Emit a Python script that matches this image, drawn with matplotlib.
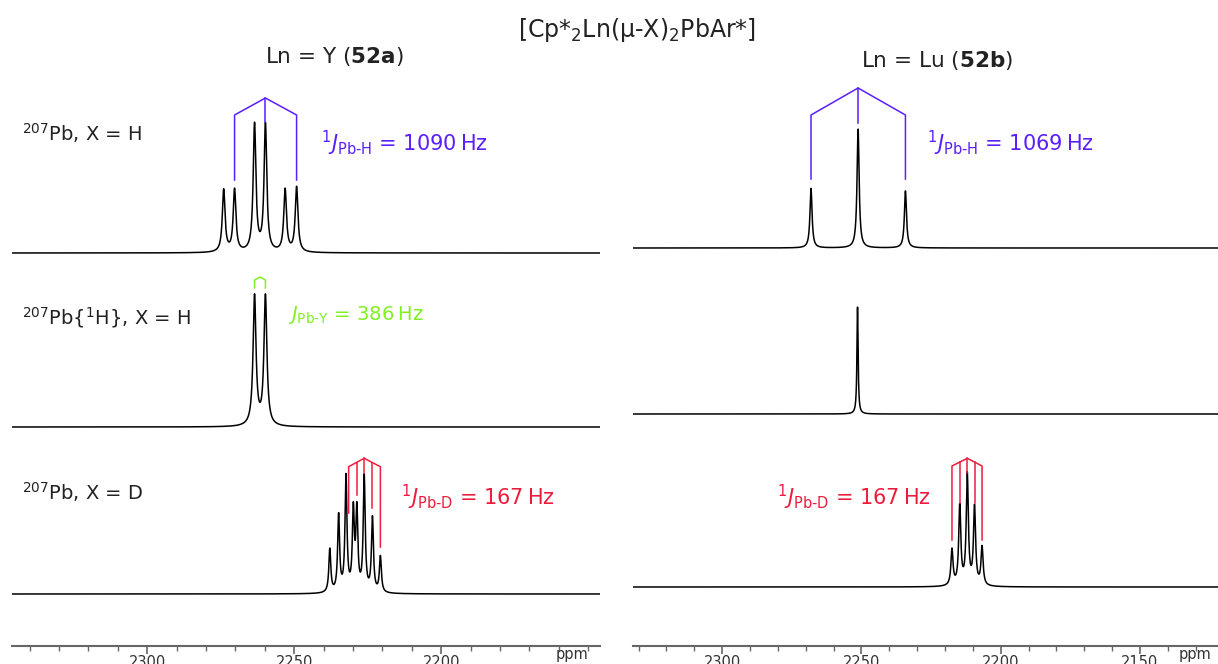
import numpy as np
import matplotlib
matplotlib.use('Agg')
import matplotlib.pyplot as plt

plt.rcParams['font.family'] = ['DejaVu Sans']
plt.rcParams['mathtext.fontset'] = 'dejavusans'

W, H = 1218, 664

# peak lists: position (ppm), relative height, half width (ppm)
# Ln = Y (52a)
y_h_ppm = [2274.0, 2270.3, 2263.5, 2259.8, 2253.1, 2249.2]
y_h_int = [0.48, 0.48, 0.98, 0.98, 0.48, 0.50]
y_h_hw = 0.55
y_dec_ppm = [2263.5, 2259.8]
y_dec_int = [0.97, 0.97]
y_dec_hw = 0.6
y_d_ppm = [2237.9, 2234.9, 2232.4, 2229.9, 2228.7, 2226.2, 2223.4, 2220.7]
y_d_int = [0.34, 0.60, 0.90, 0.62, 0.62, 0.90, 0.58, 0.28]
y_d_hw = 0.4

# Ln = Lu (52b)
lu_h_ppm = [2268.1, 2251.2, 2234.2]
lu_h_int = [0.50, 1.0, 0.48]
lu_h_hw = 0.45
lu_dec_ppm = [2251.4]
lu_dec_int = [1.0]
lu_dec_hw = 0.25
lu_d_ppm = [2217.5, 2214.7, 2212.0, 2209.4, 2206.7]
lu_d_int = [0.30, 0.66, 0.92, 0.65, 0.32]
lu_d_hw = 0.45

# line positions of the Pb-D quintet markers (ppm)
y_d_marks = [2231.5, 2228.8, 2226.2, 2223.6, 2220.7]
lu_d_marks = [2217.5, 2214.7, 2212.0, 2209.4, 2206.7]


def spectrum(x, ppm, amp, hw):
    y = np.zeros_like(x)
    for p, a in zip(ppm, amp):
        y += a / (1 + ((x - p) / hw) ** 2)
    return y


def px(x, y):
    return x / W, 1 - y / H


def yy(p):
    # pixel row -> height above the ppm axis line
    return 646 - p


fig = plt.figure(figsize=(W / 100, H / 100), dpi=100)

axL = fig.add_axes([12 / W, 18 / H, 588 / W, 576 / H])
axR = fig.add_axes([633 / W, 18 / H, 585 / W, 576 / H])

xl = np.linspace(2346, 2146, 4000)
xr = np.linspace(2332, 2122, 4000)

axL.plot(xl, 393 + 130 * spectrum(xl, y_h_ppm, y_h_int, y_h_hw), color='k', lw=1.1)
axL.plot(xl, 219 + 134 * spectrum(xl, y_dec_ppm, y_dec_int, y_dec_hw), color='k', lw=1.1)
axL.plot(xl, 52 + 128 * spectrum(xl, y_d_ppm, y_d_int, y_d_hw), color='k', lw=1.1)

axR.plot(xr, 398 + 119 * spectrum(xr, lu_h_ppm, lu_h_int, lu_h_hw), color='k', lw=1.1)
axR.plot(xr, 232 + 107 * spectrum(xr, lu_dec_ppm, lu_dec_int, lu_dec_hw), color='k', lw=1.1)
axR.plot(xr, 59 + 120 * spectrum(xr, lu_d_ppm, lu_d_int, lu_d_hw), color='k', lw=1.1)

blue = '#5a1eff'
green = '#80f020'
red = '#ee1c3c'

# 52a, X = H
axL.plot([2270.3, 2270.3, 2259.8, 2249.2, 2249.2],
         [yy(180), yy(115), yy(98), yy(115), yy(180)], color=blue, lw=1.1)
axL.plot([2259.8, 2259.8], [yy(98), yy(122)], color=blue, lw=1.1)
# 52a decoupled
axL.plot([2263.5, 2263.5, 2261.65, 2259.8, 2259.8],
         [yy(288), yy(280), yy(277), yy(280), yy(288)], color=green, lw=1.1)
# 52a, X = D
dl = y_d_marks
axL.plot([dl[0], dl[0], dl[2], dl[4], dl[4]],
         [yy(513), yy(466.7), yy(458.3), yy(466.7), yy(547)], color=red, lw=1.1)
axL.plot([dl[1], dl[1]], [yy(462.5), yy(495)], color=red, lw=1.1)
axL.plot([dl[2], dl[2]], [yy(458.3), yy(473)], color=red, lw=1.1)
axL.plot([dl[3], dl[3]], [yy(462.5), yy(508)], color=red, lw=1.1)

# 52b, X = H
axR.plot([2268.1, 2268.1, 2251.2, 2234.2, 2234.2],
         [yy(179), yy(115), yy(88), yy(115), yy(179)], color=blue, lw=1.1)
axR.plot([2251.2, 2251.2], [yy(88), yy(123)], color=blue, lw=1.1)
# 52b, X = D
dr = lu_d_marks
axR.plot([dr[0], dr[0], dr[2], dr[4], dr[4]],
         [yy(540), yy(466), yy(458.3), yy(466), yy(540)], color=red, lw=1.1)
axR.plot([dr[1], dr[1]], [yy(462), yy(503)], color=red, lw=1.1)
axR.plot([dr[2], dr[2]], [yy(458.3), yy(473)], color=red, lw=1.1)
axR.plot([dr[3], dr[3]], [yy(462), yy(503)], color=red, lw=1.1)

for ax, ticks, lim in ((axL, [2300, 2250, 2200], (2346, 2146)),
                       (axR, [2300, 2250, 2200, 2150], (2332, 2122))):
    for s in ('top', 'left', 'right'):
        ax.spines[s].set_visible(False)
    ax.spines['bottom'].set_color('#666666')
    ax.spines['bottom'].set_linewidth(1.5)
    ax.set_yticks([])
    ax.set_xticks(ticks)
    ax.set_xticks(np.arange(2120, 2350, 10), minor=True)
    ax.set_xlim(*lim)
    ax.set_ylim(0, 576)
    ax.tick_params(axis='x', which='major', length=6, width=1.2, color='#666666',
                   labelsize=10.5, labelcolor='#333333', pad=0.5)
    ax.tick_params(axis='x', which='minor', length=3.5, width=1.0, color='#666666')
    ax.patch.set_visible(False)

fig.text(*px(572, 655), 'ppm', fontsize=10.5, color='#333333', ha='center', va='center')
fig.text(*px(1195, 655), 'ppm', fontsize=10.5, color='#333333', ha='center', va='center')

# titles
fig.text(*px(637, 30), r'[Cp*$_{2}$Ln(μ-X)$_{2}$PbAr*]', fontsize=17, color='#222222',
         ha='center', va='center')
fig.text(*px(334, 57), r'Ln = Y ($\mathbf{52a}$)', fontsize=15.5, color='#222222',
         ha='center', va='center')
fig.text(*px(937, 60), r'Ln = Lu ($\mathbf{52b}$)', fontsize=15.5, color='#222222',
         ha='center', va='center')

# row labels
fig.text(*px(22, 133), r'$^{207}$Pb, X = H', fontsize=14, color='#222222', va='center')
fig.text(*px(22, 318), r'$^{207}$Pb{$^{1}$H}, X = H', fontsize=14, color='#222222',
         va='center')
fig.text(*px(22, 492), r'$^{207}$Pb, X = D', fontsize=14, color='#222222', va='center')

# coupling constants
fig.text(*px(321, 143), '$^{1}J_{\\text{Pb-H}}$ = 1090\u2009Hz', fontsize=15, color=blue,
         va='center')
fig.text(*px(288, 315), '$J_{\\text{Pb-Y}}$ = 386\u2009Hz', fontsize=14, color=green,
         va='center')
fig.text(*px(401, 497), '$^{1}J_{\\text{Pb-D}}$ = 167\u2009Hz', fontsize=15, color=red,
         va='center')
fig.text(*px(927, 143), '$^{1}J_{\\text{Pb-H}}$ = 1069\u2009Hz', fontsize=15, color=blue,
         va='center')
fig.text(*px(777, 497), '$^{1}J_{\\text{Pb-D}}$ = 167\u2009Hz', fontsize=15, color=red,
         va='center')

fig.savefig('out.png', dpi=100)
